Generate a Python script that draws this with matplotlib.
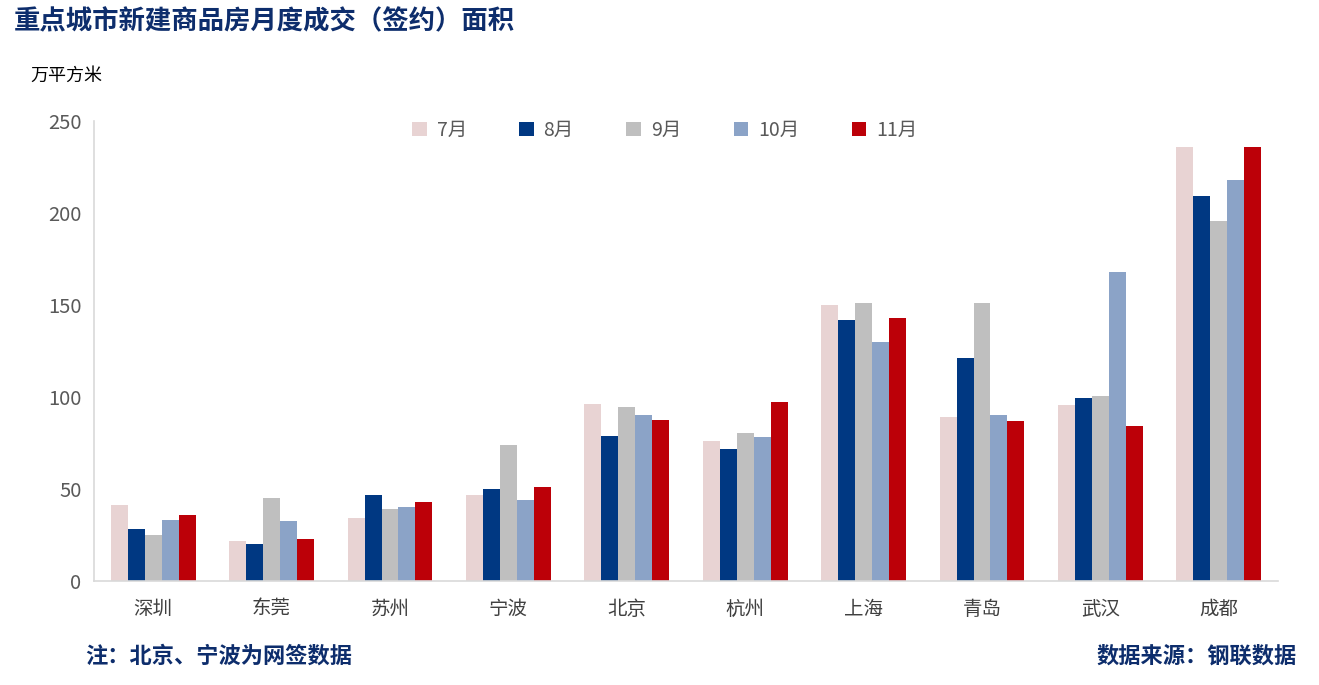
import matplotlib
matplotlib.use("Agg")
import matplotlib.pyplot as plt
import numpy as np

plt.rcParams['font.family'] = ['Noto Sans CJK SC', 'DejaVu Sans']

cities = ["深圳", "东莞", "苏州", "宁波", "北京", "杭州", "上海", "青岛", "武汉", "成都"]
months = ["7月", "8月", "9月", "10月", "11月"]
jul = [41.4, 21.7, 34.2, 46.7, 96.2, 76.1, 150.0, 89.1, 95.7, 235.7]
aug = [28.3, 20.1, 46.7, 50.0, 78.8, 71.7, 141.8, 121.2, 99.5, 209.0]
sep = [25.1, 45.1, 39.1, 73.9, 94.6, 80.4, 151.1, 151.1, 100.6, 195.9]
oct_ = [33.2, 32.6, 40.2, 44.0, 90.2, 78.3, 129.9, 90.2, 168.0, 217.7]
nov = [35.9, 22.8, 42.9, 51.1, 87.5, 97.3, 142.9, 87.0, 84.3, 235.7]
series = [jul, aug, sep, oct_, nov]
colors = ["#E8D3D3", "#003882", "#BFBFBF", "#8BA3C7", "#BC0008"]
yticks = [0, 50, 100, 150, 200, 250]

fig = plt.figure(figsize=(13.19, 6.85), dpi=100)
ax = fig.add_axes([94/1319, 1-581/685, (1278-94)/1319, (581-121)/685])

x = np.arange(len(cities))
w = 0.143
for i, (vals, c, m) in enumerate(zip(series, colors, months)):
    ax.bar(x + (i - 2) * w, vals, width=w, color=c, label=m, linewidth=0)

ax.set_xlim(-0.5, len(cities) - 0.5)
ax.set_ylim(0, 250)
ax.set_yticks(yticks)
ax.set_yticklabels([str(t) for t in yticks], fontsize=14.5, color="#595959")
ax.set_xticks(x)
ax.set_xticklabels(cities, fontsize=14, color="#404040")
ax.tick_params(axis='both', length=0)
ax.tick_params(axis='y', pad=9)
ax.tick_params(axis='x', pad=13)
for s in ["top", "right"]:
    ax.spines[s].set_visible(False)
for s in ["left", "bottom"]:
    ax.spines[s].set_color("#D9D9D9")
    ax.spines[s].set_linewidth(1.2)

leg = ax.legend(loc="upper center", bbox_to_anchor=(0.482, 1.04), ncol=5, frameon=False,
                fontsize=14, handlelength=0.75, handleheight=0.75, columnspacing=2.7,
                handletextpad=0.5)
for t in leg.get_texts():
    t.set_color("#595959")

fig.text(14/1319, 1-22/685, "重点城市新建商品房月度成交（签约）面积", fontsize=19, fontweight="bold",
         color="#0D2D6C", ha="left", va="center")
fig.text(30/1319, 1-76/685, "万平方米", fontsize=13, color="#000000", ha="left", va="center")
fig.text(85/1319, 1-656/685, "注：北京、宁波为网签数据", fontsize=16, fontweight="bold",
         color="#0D2D6C", ha="left", va="center")
fig.text(1297/1319, 1-656/685, "数据来源：钢联数据", fontsize=16, fontweight="bold",
         color="#0D2D6C", ha="right", va="center")

fig.savefig("out.png", dpi=100)
